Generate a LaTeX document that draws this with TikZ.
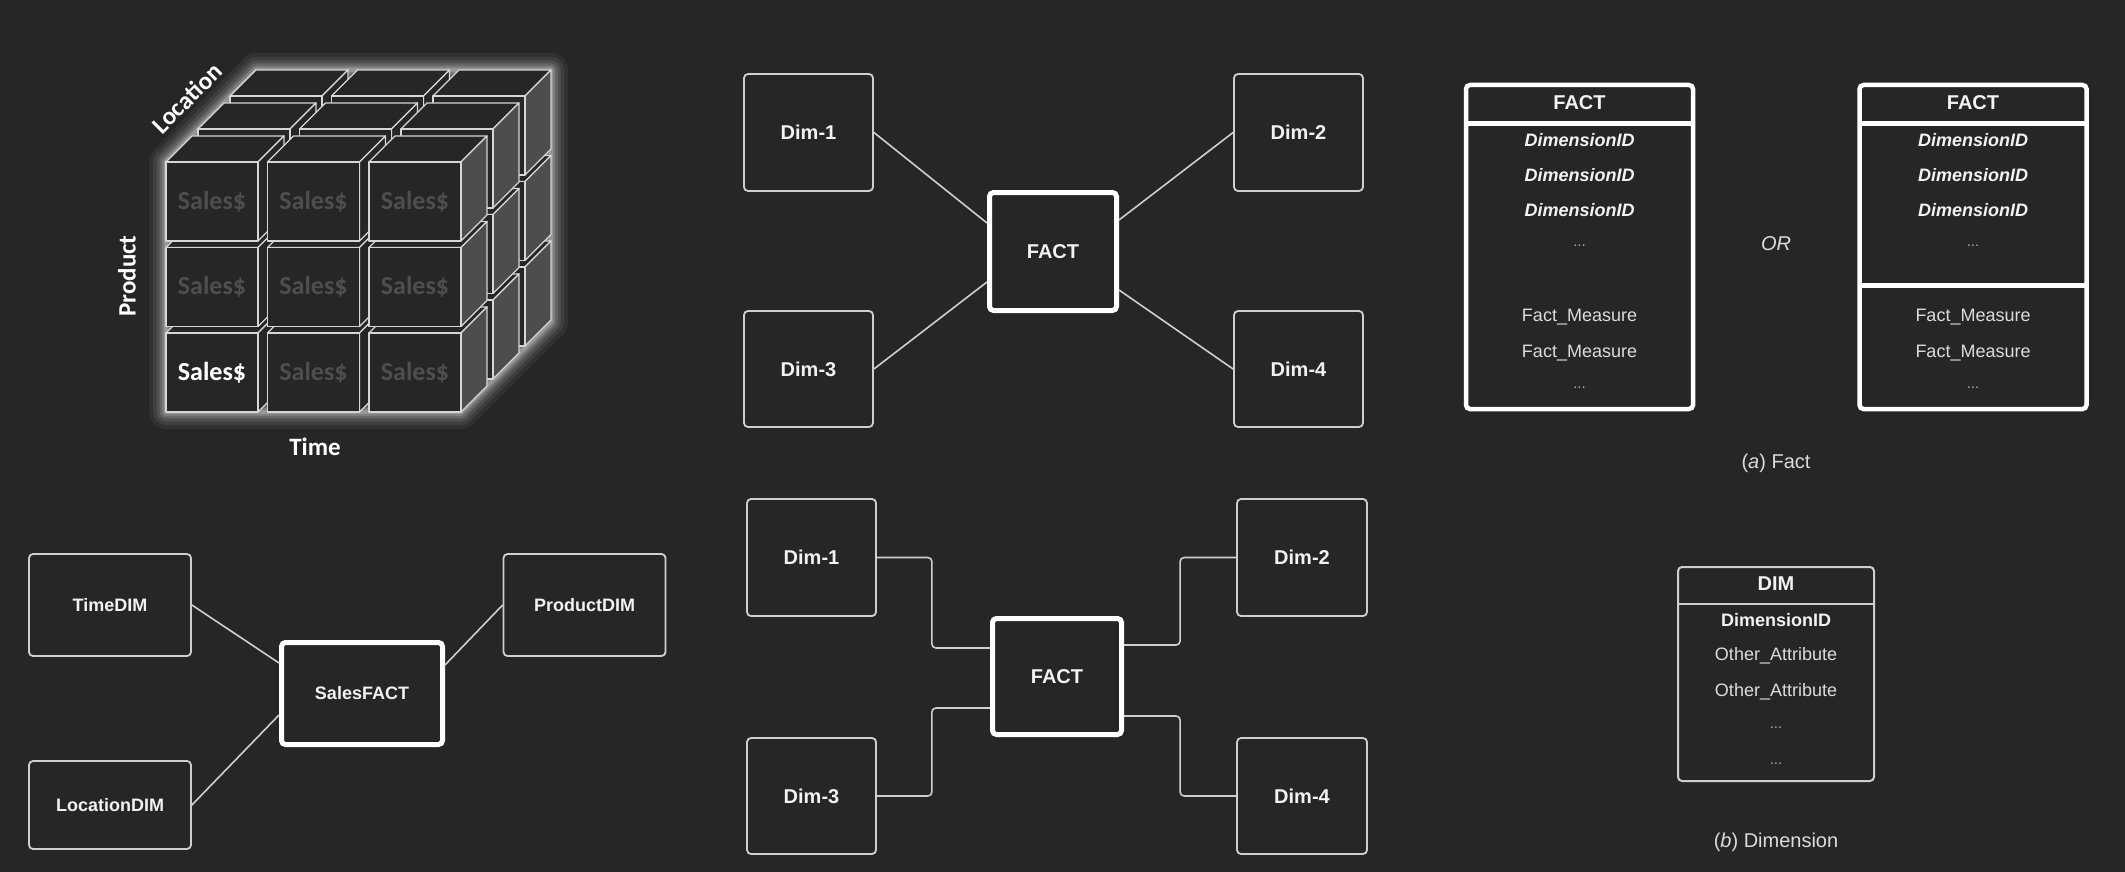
\documentclass[tikz,border=0pt]{standalone}
\usepackage{fontspec}
\setmainfont{Liberation Sans}
\newfontfamily\carl{Carlito}
\definecolor{bg}{HTML}{262626}
\definecolor{edge}{HTML}{D6D6D6}
\definecolor{sidegray}{HTML}{4D4D4D}
\definecolor{dimtxt}{HTML}{4E4E4E}
\definecolor{boxline}{HTML}{CFCFCF}
\definecolor{txt}{HTML}{F2F2F2}
\definecolor{soft}{HTML}{DCDCDC}
\definecolor{dotc}{HTML}{A8A8A8}
\begin{document}
\begin{tikzpicture}[x=1pt,y=-1pt,
  box/.style={draw=boxline, line width=1.8pt, rounded corners=4pt, fill=bg, text=txt,
    font=\fontsize{20}{24}\selectfont\bfseries, inner sep=0pt},
  smallbox/.style={box, font=\fontsize{18}{22}\selectfont\bfseries},
  factbox/.style={box, draw=white, line width=5pt},
  conn/.style={draw=boxline, line width=1.6pt},
  cubeedge/.style={draw=edge, line width=1.4pt, line join=round},
  cubelbl/.style={text=white, font=\carl\fontsize{25}{30}\selectfont\bfseries, inner sep=0pt},
  salestxt/.style={text=dimtxt, font=\carl\fontsize{26}{30}\selectfont\bfseries, inner sep=0pt},
  tbl/.style={draw=white, line width=4.5pt, rounded corners=4pt, inner sep=0pt},
  hdr/.style={text=txt, font=\fontsize{20}{24}\selectfont\bfseries, inner sep=0pt},
  idtxt/.style={text=txt, font=\fontsize{18}{22}\selectfont\bfseries\itshape, inner sep=0pt},
  rowtxt/.style={text=soft, font=\fontsize{18}{22}\selectfont, inner sep=0pt},
  dotstxt/.style={text=dotc, font=\fontsize{15}{22}\selectfont, inner sep=0pt},
  captxt/.style={text=soft, font=\fontsize{20}{24}\selectfont, inner sep=0pt}
]
\useasboundingbox (0,0) rectangle (2125,872);
\fill[bg] (0,0) rectangle (2125,872);

% ---------------- cube ----------------
\foreach \w/\o in {34/0.05,26/0.07,19/0.09,13/0.12,8/0.16,4/0.2}{
  \draw[white, line width=\w pt, opacity=\o, line join=round]
    (166,412) -- (166,162) -- (256,70) -- (551,70) -- (551,322) -- (461,412) -- cycle;
}
\foreach \k in {2,1,0}{
  \foreach \j in {2,1,0}{
    \foreach \i in {0,1,2}{
      \pgfmathsetmacro{\xa}{166+\i*101.5+\k*32}
      \pgfmathsetmacro{\ya}{162+\j*85.5-\k*33}
      \pgfmathsetmacro{\xb}{\xa+92}
      \pgfmathsetmacro{\yb}{\ya+79}
      \ifnum\i=2
        \def\sidefill{sidegray}
      \else
        \def\sidefill{bg}
      \fi
      \filldraw[cubeedge, fill=bg] (\xa,\ya) -- (\xb,\ya) -- (\xb+26,\ya-26) -- (\xa+26,\ya-26) -- cycle;
      \filldraw[cubeedge, fill=\sidefill] (\xb,\ya) -- (\xb+26,\ya-26) -- (\xb+26,\yb-26) -- (\xb,\yb) -- cycle;
      \filldraw[cubeedge, fill=bg] (\xa,\ya) rectangle (\xb,\yb);
    }
  }
}
\foreach \i in {0,1,2}{
  \foreach \j in {0,1,2}{
    \pgfmathsetmacro{\cx}{166+\i*101.5+46}
    \pgfmathsetmacro{\cy}{162+\j*85.5+39.5}
    \node[salestxt] (s\i\j) at (\cx,\cy) {Sales\$};
  }
}
\node[salestxt, text=white] (sbl) at (212,372.5) {Sales\$};
\node[cubelbl] (lblTime) at (315,447) {Time};
\node[cubelbl, rotate=90] (lblProd) at (127,276) {Product};
\node[cubelbl, rotate=45] (lblLoc) at (187,98) {Location};

% ---------------- bottom-left star ----------------
\node[smallbox, minimum width=162pt, minimum height=102pt] (timedim) at (110,605) {TimeDIM};
\node[smallbox, minimum width=162pt, minimum height=102pt] (proddim) at (584.5,605) {ProductDIM};
\node[smallbox, minimum width=162pt, minimum height=88pt] (locdim) at (110,805) {LocationDIM};
\node[smallbox, draw=white, line width=5pt, minimum width=161pt, minimum height=102pt] (salesfact) at (362,693.5) {SalesFACT};
\draw[conn] (timedim.east) -- ([yshift=30.5pt]salesfact.west);
\draw[conn] (locdim.east) -- ([yshift=-21.5pt]salesfact.west);
\draw[conn] (proddim.west) -- ([yshift=28.5pt]salesfact.east);

% ---------------- top-middle star ----------------
\node[box, minimum width=129pt, minimum height=117pt] (td1) at (808.5,132.5) {Dim-1};
\node[box, minimum width=129pt, minimum height=117pt] (td2) at (1298.5,132.5) {Dim-2};
\node[box, minimum width=129pt, minimum height=116pt] (td3) at (808.5,369) {Dim-3};
\node[box, minimum width=129pt, minimum height=116pt] (td4) at (1298.5,369) {Dim-4};
\node[factbox, minimum width=127pt, minimum height=118pt] (tf) at (1053,251.5) {FACT};
\draw[conn] (td1.east) -- ([yshift=28.5pt]tf.west);
\draw[conn] (td3.east) -- ([yshift=-30.5pt]tf.west);
\draw[conn] (td2.west) -- ([yshift=31.5pt]tf.east);
\draw[conn] (td4.west) -- ([yshift=-38.5pt]tf.east);

% ---------------- bottom-middle star ----------------
\node[box, minimum width=129pt, minimum height=117pt] (bd1) at (811.5,557.5) {Dim-1};
\node[box, minimum width=130pt, minimum height=117pt] (bd2) at (1302,557.5) {Dim-2};
\node[box, minimum width=129pt, minimum height=116pt] (bd3) at (811.5,796) {Dim-3};
\node[box, minimum width=130pt, minimum height=116pt] (bd4) at (1302,796) {Dim-4};
\node[factbox, minimum width=129pt, minimum height=116pt] (bf) at (1057,676.5) {FACT};
\draw[conn, rounded corners=4pt] (bd1.east) -- ++(55,0) |- ([yshift=28.5pt]bf.west);
\draw[conn, rounded corners=4pt] (bd3.east) -- ++(55,0) |- ([yshift=-31.5pt]bf.west);
\draw[conn, rounded corners=4pt] (bd2.west) -- ++(-56,0) |- ([yshift=31.5pt]bf.east);
\draw[conn, rounded corners=4pt] (bd4.west) -- ++(-56,0) |- ([yshift=-39.5pt]bf.east);

% ---------------- FACT tables ----------------
\node[tbl, minimum width=227pt, minimum height=324pt] (ftA) at (1579.5,247) {};
\draw[white, line width=5pt] (1466,124) -- (1693,124);
\node[hdr] (ftAh) at (1579.5,103) {FACT};
\node[idtxt] (ftA1) at (1579.5,140) {DimensionID};
\node[idtxt] (ftA2) at (1579.5,175) {DimensionID};
\node[idtxt] (ftA3) at (1579.5,210) {DimensionID};
\node[dotstxt] (ftA4) at (1579.5,246) {...};
\node[rowtxt] (ftA5) at (1579.5,317) {Fact\_Measure};
\node[rowtxt] (ftA6) at (1579.5,353) {Fact\_Measure};
\node[dotstxt] (ftA7) at (1579.5,388) {...};

\node[tbl, minimum width=227pt, minimum height=324pt] (ftB) at (1973,247) {};
\draw[white, line width=5pt] (1860,124) -- (2086,124);
\draw[white, line width=5pt] (1860,285) -- (2086,285);
\node[hdr] (ftBh) at (1973,103) {FACT};
\node[idtxt] (ftB1) at (1973,140) {DimensionID};
\node[idtxt] (ftB2) at (1973,175) {DimensionID};
\node[idtxt] (ftB3) at (1973,210) {DimensionID};
\node[dotstxt] (ftB4) at (1973,246) {...};
\node[rowtxt] (ftB5) at (1973,317) {Fact\_Measure};
\node[rowtxt] (ftB6) at (1973,353) {Fact\_Measure};
\node[dotstxt] (ftB7) at (1973,388) {...};

\node[captxt, font=\fontsize{20}{24}\selectfont\itshape] (orlbl) at (1776,244) {OR};
\node[captxt] (capA) at (1776,463) {(\textit{a}) Fact};

% ---------------- DIM table ----------------
\node[tbl, draw=boxline, line width=2pt, minimum width=196pt, minimum height=214pt] (dimT) at (1776,674) {};
\draw[boxline, line width=1.8pt] (1678,604) -- (1874,604);
\node[hdr] (dimTh) at (1776,584) {DIM};
\node[rowtxt, text=txt, font=\fontsize{18}{22}\selectfont\bfseries] (dimT1) at (1776,620) {DimensionID};
\node[rowtxt] (dimT2) at (1776,656) {Other\_Attribute};
\node[rowtxt] (dimT3) at (1776,692) {Other\_Attribute};
\node[dotstxt] (dimT4) at (1776,728) {...};
\node[dotstxt] (dimT5) at (1776,764) {...};
\node[captxt] (capB) at (1776,842) {(\textit{b}) Dimension};
\end{tikzpicture}
\end{document}
